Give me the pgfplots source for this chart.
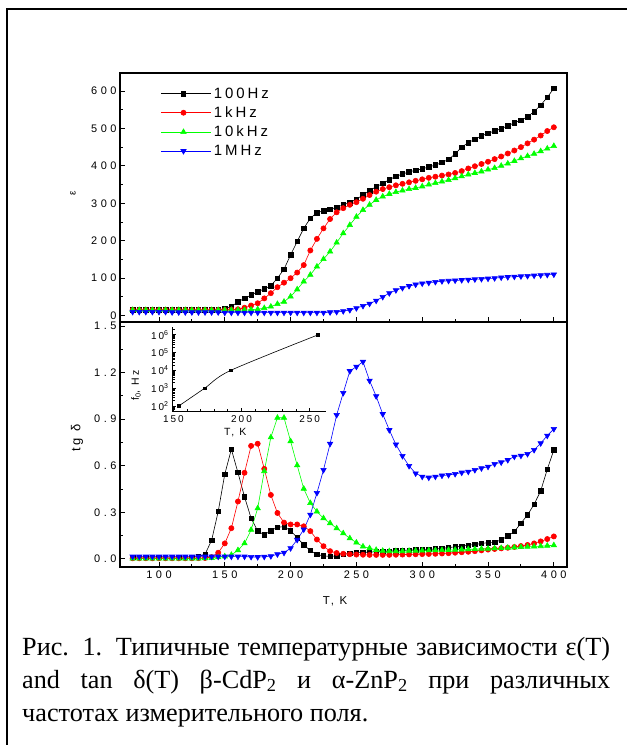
\documentclass[border=0pt]{standalone}
\usepackage{fontspec}
\setmainfont{Liberation Serif}
\newfontfamily\arialsp[LetterSpace=20]{Liberation Sans}
\newfontfamily\arialtick[LetterSpace=32]{Liberation Sans}
\usepackage{pgfplots}
\pgfplotsset{compat=1.18}
\usepackage{pgfplotstable}

% permittivity, T in K
\pgfplotstableread{
T e100 e1k e10k e1M
80 15 15 15 10
85 15 15 15 10
90 15 15 15 10
95 15 15 15 10
100 15 15 15 10
105 15 15 15 10
110 15 15 15 9
115 15 15 15 9
120 15 15 15 9
125 15 15 15 9
130 15 15 15 9
135 15 15 15 9
140 15 15 15 9
145 16 15 15 9
150 18 15 15 8
155 24 16 15 8
160 37 17 15 8
165 46 21 15 8
170 55 27 16 8
175 64 33 17 8
180 71 46 20 8
185 80 60 24 8
190 100 76 31 8
195 124 88 37 8
200 162 100 51 8
205 198 115 70 8
210 233 135 91 8
215 260 174 109 8
220 275 205 131 8
225 280 233 151 8
230 284 258 171 9
235 289 276 195 10
240 296 287 220 12
245 302 296 242 15
250 311 303 264 20
255 322 312 282 26
260 334 322 296 32
265 344 331 309 40
270 353 338 318 50
275 363 343 325 60
280 372 348 330 68
285 378 352 334 74
290 384 356 338 79
295 388 360 341 83
300 392 364 345 86
305 397 368 350 88
310 402 371 354 90
315 409 374 358 92
320 417 377 362 93
325 432 381 367 94
330 450 386 372 95
335 462 393 377 96
340 471 399 381 97
345 480 405 385 98
350 487 411 390 99
355 493 418 394 100
360 499 425 400 102
365 507 433 406 103
370 515 441 413 104
375 522 450 420 105
380 531 460 426 106
385 545 470 432 107
390 562 481 439 108
395 583 493 446 109
400 607 503 453 110
}\epsdata

% loss tangent
\pgfplotstableread{
T t100 t1k t10k t1M
80 0.012 0.004 0.002 0.015
85 0.012 0.004 0.002 0.015
90 0.012 0.004 0.002 0.015
95 0.012 0.004 0.002 0.015
100 0.012 0.004 0.002 0.015
105 0.012 0.004 0.002 0.015
110 0.012 0.004 0.002 0.015
115 0.012 0.004 0.003 0.015
120 0.012 0.004 0.003 0.015
125 0.012 0.004 0.003 0.015
130 0.014 0.005 0.003 0.015
135 0.03 0.006 0.004 0.015
140 0.12 0.012 0.006 0.015
145 0.305 0.04 0.01 0.015
150 0.546 0.10 0.016 0.015
155 0.706 0.198 0.026 0.015
160 0.556 0.37 0.056 0.015
165 0.40 0.555 0.10 0.015
170 0.262 0.728 0.187 0.013
175 0.18 0.742 0.326 0.012
180 0.155 0.58 0.565 0.014
185 0.182 0.412 0.783 0.018
190 0.204 0.296 0.909 0.03
195 0.208 0.234 0.909 0.04
200 0.182 0.222 0.758 0.069
205 0.137 0.222 0.603 0.123
210 0.09 0.21 0.452 0.19
215 0.054 0.179 0.36 0.285
220 0.028 0.125 0.305 0.425
225 0.02 0.082 0.262 0.573
230 0.016 0.05 0.23 0.742
235 0.02 0.038 0.197 0.927
240 0.03 0.033 0.165 1.069
245 0.036 0.03 0.133 1.21
250 0.04 0.028 0.105 1.238
255 0.042 0.027 0.08 1.27
260 0.044 0.026 0.069 1.148
265 0.046 0.026 0.058 1.048
270 0.048 0.026 0.052 0.933
275 0.05 0.026 0.05 0.83
280 0.052 0.027 0.05 0.737
285 0.055 0.028 0.05 0.663
290 0.057 0.029 0.052 0.599
295 0.058 0.03 0.053 0.551
300 0.059 0.031 0.054 0.53
305 0.061 0.032 0.055 0.524
310 0.064 0.033 0.056 0.53
315 0.068 0.035 0.057 0.537
320 0.073 0.037 0.058 0.541
325 0.078 0.04 0.059 0.547
330 0.083 0.043 0.06 0.556
335 0.088 0.046 0.062 0.562
340 0.093 0.05 0.063 0.573
345 0.099 0.055 0.065 0.584
350 0.105 0.06 0.066 0.594
355 0.108 0.064 0.068 0.612
360 0.122 0.068 0.07 0.622
365 0.148 0.072 0.072 0.637
370 0.176 0.077 0.074 0.659
375 0.23 0.083 0.076 0.665
380 0.283 0.09 0.078 0.676
385 0.352 0.10 0.08 0.702
390 0.438 0.113 0.082 0.745
395 0.577 0.128 0.085 0.794
400 0.702 0.145 0.088 0.837
}\tandata

\pgfplotsset{
  every axis/.append style={
    scale only axis,
    axis line style={line width=1.3bp},
    tick style={black, line width=0.9bp},
    major tick length=5bp, minor tick length=3bp,
    xtick pos=left, ytick pos=left,
    /pgf/number format/assume math mode=true,
    tick label style={font=\arialtick\fontsize{11}{13}\selectfont},
  },
  panel/.style={
    width=447bp, xmin=70.4, xmax=410,
    xtick={100,150,...,400}, minor x tick num=1, minor y tick num=1,
    legend image code/.code={\path (0bp,0bp) -- (50bp,0bp);
      \draw[##1, mark repeat=2, mark phase=2]
      plot coordinates {(0bp,0bp) (22bp,0bp) (44bp,0bp)};},
  },
  s100/.style={black, line width=0.6bp, mark=square*, mark size=2.3bp},
  s1k/.style={red, line width=0.6bp, mark=*, mark size=2.6bp},
  s10k/.style={green, line width=0.6bp, mark=triangle*, mark size=3.1bp},
  s1M/.style={blue, line width=0.6bp, mark=triangle*, mark size=3.1bp, mark options={rotate=180}},
}

\begin{document}
\begin{tikzpicture}[x=1bp,y=1bp]
\useasboundingbox (0,0) rectangle (627,745);
\draw[line width=1.6bp] (627,736) -- (7,736) -- (7,0);

% upper panel: permittivity
\begin{axis}[panel, at={(120bp,423bp)}, anchor=south west, height=249bp,
  ymin=-17, ymax=648, ytick={0,100,...,600}, xticklabels={},
  ylabel={ε},
  ylabel style={font=\arialsp\fontsize{10}{12}\selectfont, at={(axis description cs:-0.105,0.518)}, anchor=center},
  legend style={draw=none, fill=none, at={(0.085,0.958)}, anchor=north west,
    font=\arialsp\fontsize{15}{17}\selectfont, row sep=3bp},
  legend cell align=left]
\addplot[s100] table[x=T, y=e100] {\epsdata};
\addlegendentry{100Hz}
\addplot[s1k] table[x=T, y=e1k] {\epsdata};
\addlegendentry{1kHz}
\addplot[s10k] table[x=T, y=e10k] {\epsdata};
\addlegendentry{10kHz}
\addplot[s1M] table[x=T, y=e1M] {\epsdata};
\addlegendentry{1MHz}
\end{axis}

% lower panel: loss tangent
\begin{axis}[panel, at={(120bp,178bp)}, anchor=south west, height=245bp,
  ymin=-0.052, ymax=1.526, ytick={0,0.3,0.6,0.9,1.2,1.5},
  yticklabel style={/pgf/number format/.cd, fixed, fixed zerofill, precision=1},
  xlabel={T, K}, ylabel={tg δ},
  xlabel style={font=\arialsp\fontsize{11.5}{13}\selectfont, at={(axis description cs:0.481,-0.139)}, anchor=center},
  ylabel style={font=\arialsp\fontsize{13}{15}\selectfont, at={(axis description cs:-0.096,0.527)}, anchor=center}]
\addplot[s100, mark size=2.2bp] table[x=T, y=t100] {\tandata};
\addplot[s1k] table[x=T, y=t1k] {\tandata};
\addplot[s10k] table[x=T, y=t10k] {\tandata};
\addplot[s1M] table[x=T, y=t1M] {\tandata};
\end{axis}

% inset: relaxation frequency
\begin{axis}[at={(172bp,333bp)}, anchor=south west, width=154bp, height=85bp,
  xmin=149, xmax=262, ymode=log, ymin=45.7, ymax=2.8e6,
  axis x line*=bottom, axis y line*=left,
  axis line style={line width=1bp},
  xtick={150,200,250}, minor x tick num=4,
  ytick={1e2,1e3,1e4,1e5,1e6},
  yticklabels={10\textsuperscript{2},10\textsuperscript{3},10\textsuperscript{4},10\textsuperscript{5},10\textsuperscript{6}},
  minor ytick={50,60,70,80,90,200,300,400,500,600,700,800,900,2000,3000,4000,5000,6000,7000,8000,9000,
    2e4,3e4,4e4,5e4,6e4,7e4,8e4,9e4,2e5,3e5,4e5,5e5,6e5,7e5,8e5,9e5,2e6},
  major tick length=4bp, minor tick length=2.5bp,
  tick label style={font=\arialsp\fontsize{10}{12}\selectfont},
  xlabel={T, K}, ylabel={f\textsubscript{0}, Hz},
  xlabel style={font=\arialsp\fontsize{10.5}{12}\selectfont, at={(axis description cs:0.41,-0.247)}, anchor=center},
  ylabel style={font=\arialsp\fontsize{10.5}{12}\selectfont, at={(axis description cs:-0.234,0.31)}, anchor=center}]
\addplot[black, line width=0.6bp, smooth, mark=square*, mark size=1.3bp]
  coordinates {(154,100) (173,1000) (192,10000) (256,1000000)};
\end{axis}

% caption
\node[anchor=north west, text width=588bp, align=justify, inner sep=0pt,
  font=\fontsize{26.3}{33}\selectfont] at (22,108)
  {\hyphenpenalty=10000\exhyphenpenalty=10000
   Рис. 1. Типичные температурные зависимости ε(T)\linebreak
   and tan δ(T) \mbox{β-CdP\textsubscript{2}} и \mbox{α-ZnP\textsubscript{2}} при различных\linebreak
   частотах измерительного поля.};
\end{tikzpicture}
\end{document}
